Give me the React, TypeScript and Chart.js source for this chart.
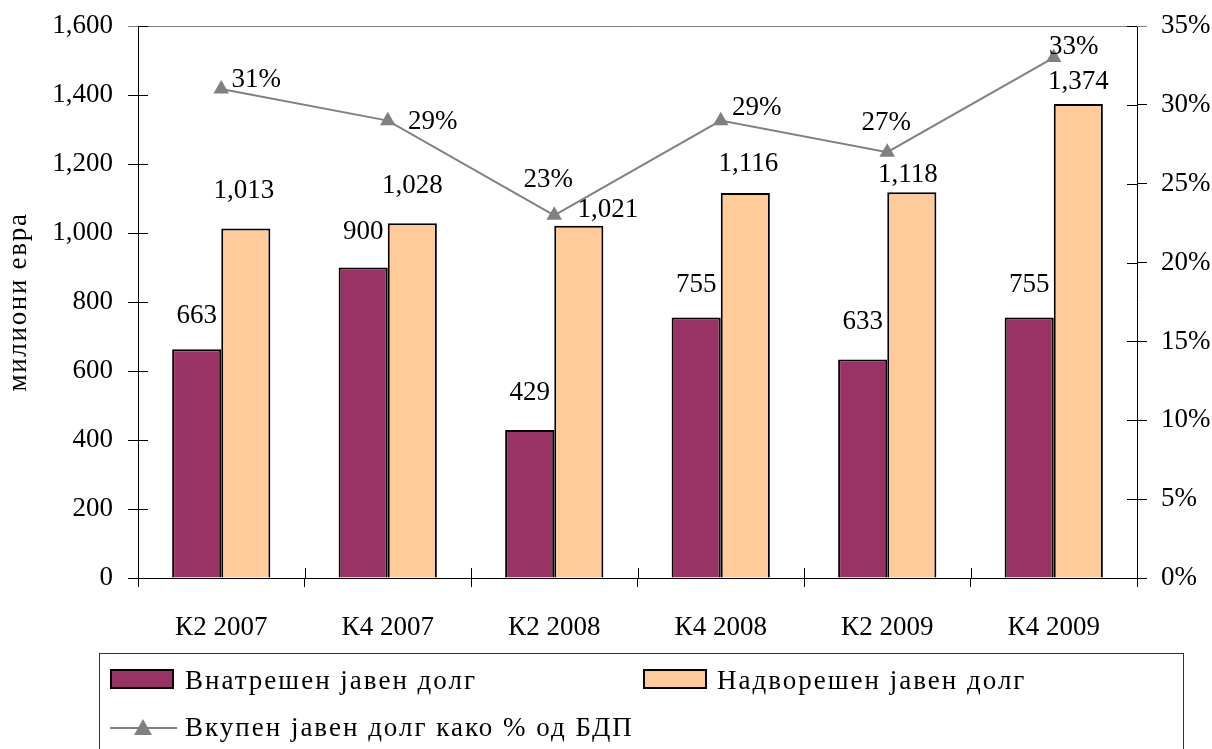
import React, { useEffect, useRef } from "react";
import { Chart, registerables } from "chart.js";

Chart.register(...registerables);

// ---- data ----
const categories = ["К2 2007", "К4 2007", "К2 2008", "К4 2008", "К2 2009", "К4 2009"];
const domesticDebt = [663, 900, 429, 755, 633, 755];
const externalDebt = [1013, 1028, 1021, 1116, 1118, 1374];
const debtToGdp = [31, 29, 23, 29, 27, 33];
const seriesNames = ["Внатрешен јавен долг", "Надворешен јавен долг", "Вкупен јавен долг како % од БДП"];
const leftAxisTitle = "милиони евра";

// ---- label nudges (style, in px: [dx, dy-up]) ----
const domesticLabelNudge = [[0, 33], [0, 36], [0, 37], [0, 33], [0, 38], [0, 33]];
const externalLabelNudge = [[-2, 38], [0, 37], [29, 16], [3, 29], [-4, 17], [0, 22]];
const ratioLabelNudge = [[35, 9], [45, -1], [-6, 35], [36, 13], [-1, 29], [20, 11]];

const FONT_FAMILY = '"Liberation Serif", "Times New Roman", serif';
const FS = 27;
const MAROON = "#993366";
const PEACH = "#FFCC99";
const GRAY = "#808080";

const fmt = (v: number) => v.toLocaleString("en-US");

const labelsPlugin = {
  id: "dataLabelsCustom",
  afterDatasetsDraw(chart: any) {
    const ctx = chart.ctx;
    ctx.save();
    ctx.font = `${FS}px ${FONT_FAMILY}`;
    ctx.fillStyle = "#000";
    ctx.textAlign = "center";
    ctx.textBaseline = "middle";
    const nudges = [domesticLabelNudge, externalLabelNudge, ratioLabelNudge];
    chart.data.datasets.forEach((ds: any, di: number) => {
      const meta = chart.getDatasetMeta(di);
      meta.data.forEach((el: any, i: number) => {
        const v = ds.data[i];
        const txt = di === 2 ? `${v}%` : fmt(v);
        const [dx, dy] = nudges[di][i];
        ctx.fillText(txt, el.x + dx, el.y - dy);
      });
    });
    ctx.restore();
  },
};

const axisDecorPlugin = {
  id: "axisDecor",
  afterDraw(chart: any) {
    const ctx = chart.ctx;
    const a = chart.chartArea;
    ctx.save();
    // top border
    ctx.strokeStyle = GRAY;
    ctx.lineWidth = 1;
    ctx.beginPath();
    ctx.moveTo(a.left - 10, Math.round(a.top) + 0.5);
    ctx.lineTo(a.right + 10, Math.round(a.top) + 0.5);
    ctx.stroke();
    // inner tick segments
    ctx.strokeStyle = "#000";
    const y = chart.scales.y;
    y.ticks.forEach((t: any) => {
      const p = Math.round(y.getPixelForValue(t.value)) + 0.5;
      ctx.beginPath();
      ctx.moveTo(a.left, p);
      ctx.lineTo(a.left + 10, p);
      ctx.stroke();
    });
    const y1 = chart.scales.y1;
    y1.ticks.forEach((t: any) => {
      const p = Math.round(y1.getPixelForValue(t.value)) + 0.5;
      ctx.beginPath();
      ctx.moveTo(a.right - 10, p);
      ctx.lineTo(a.right, p);
      ctx.stroke();
    });
    const n = chart.data.labels.length;
    for (let i = 0; i <= n; i++) {
      const x = Math.round(a.left + ((a.right - a.left) * i) / n) + 0.5;
      ctx.beginPath();
      ctx.moveTo(x, a.bottom);
      ctx.lineTo(x, a.bottom - 10);
      ctx.stroke();
    }
    // y-axis title
    ctx.fillStyle = "#000";
    ctx.font = `${FS}px ${FONT_FAMILY}`;
    (ctx as any).letterSpacing = "1.7px";
    ctx.textAlign = "center";
    ctx.textBaseline = "middle";
    ctx.translate(19, (a.top + a.bottom) / 2);
    ctx.rotate(-Math.PI / 2);
    ctx.fillText(leftAxisTitle, 0, 0);
    ctx.restore();
  },
};

const legendPlugin = {
  id: "legendCustom",
  afterDraw(chart: any) {
    const ctx = chart.ctx;
    ctx.save();
    ctx.strokeStyle = "#333";
    ctx.lineWidth = 1;
    ctx.strokeRect(99.5, 653.5, 1084, 120);
    ctx.font = `${FS}px ${FONT_FAMILY}`;
    (ctx as any).letterSpacing = "2px";
    ctx.fillStyle = "#000";
    ctx.textBaseline = "middle";
    ctx.textAlign = "left";
    const ds = chart.data.datasets;
    // bar swatches
    const sw = [
      { x: 111, y: 670, tx: 185 },
      { x: 644, y: 670, tx: 717 },
    ];
    sw.forEach((s, i) => {
      ctx.fillStyle = ds[i].backgroundColor;
      ctx.fillRect(s.x, s.y, 62, 18);
      ctx.strokeStyle = "#000";
      ctx.lineWidth = 2;
      ctx.strokeRect(s.x, s.y, 62, 18);
      ctx.fillStyle = "#000";
      ctx.fillText(ds[i].label, s.tx, s.y + 12);
    });
    // line item
    ctx.strokeStyle = ds[2].borderColor;
    ctx.lineWidth = 2;
    ctx.beginPath();
    ctx.moveTo(110, 728);
    ctx.lineTo(177, 728);
    ctx.stroke();
    ctx.fillStyle = ds[2].pointBackgroundColor;
    ctx.beginPath();
    ctx.moveTo(143, 719);
    ctx.lineTo(152, 735);
    ctx.lineTo(134, 735);
    ctx.closePath();
    ctx.fill();
    ctx.fillStyle = "#000";
    ctx.fillText(ds[2].label, 185, 729);
    ctx.restore();
  },
};

export default function App() {
  const ref = useRef<HTMLCanvasElement | null>(null);
  useEffect(() => {
    if (!ref.current) return;
    const font = { family: FONT_FAMILY, size: FS };
    const chart = new Chart(ref.current, {
      type: "bar",
      data: {
        labels: categories,
        datasets: [
          {
            type: "bar",
            label: seriesNames[0],
            data: domesticDebt,
            backgroundColor: MAROON,
            borderColor: "#000",
            borderWidth: 2,
            yAxisID: "y",
            order: 2,
            categoryPercentage: 0.59,
            barPercentage: 1,
          } as any,
          {
            type: "bar",
            label: seriesNames[1],
            data: externalDebt,
            backgroundColor: PEACH,
            borderColor: "#000",
            borderWidth: 2,
            yAxisID: "y",
            order: 2,
            categoryPercentage: 0.59,
            barPercentage: 1,
          } as any,
          {
            type: "line",
            label: seriesNames[2],
            data: debtToGdp,
            borderColor: GRAY,
            borderWidth: 2,
            pointStyle: "triangle",
            pointRadius: 9,
            pointBackgroundColor: GRAY,
            pointBorderColor: GRAY,
            pointBorderWidth: 0,
            yAxisID: "y1",
            order: 1,
            tension: 0,
          } as any,
        ],
      },
      options: {
        responsive: false,
        animation: false,
        layout: { padding: { top: 26, left: 0, right: 0, bottom: 0 } },
        plugins: {
          legend: { display: false },
          tooltip: { enabled: false },
        },
        scales: {
          x: {
            offset: true,
            grid: { display: true, drawOnChartArea: false, offset: true, tickLength: 9, color: "#000" },
            border: { color: "#000", width: 1 },
            ticks: { font, color: "#000", padding: 25, maxRotation: 0 },
            afterFit: (s: any) => {
              s.height = 171;
              s.paddingLeft = 0;
              s.paddingRight = 0;
            },
          },
          y: {
            position: "left",
            min: 0,
            max: 1600,
            ticks: { stepSize: 200, font, color: "#000", padding: 15, callback: (v: any) => fmt(Number(v)) },
            grid: { drawOnChartArea: false, tickLength: 10, color: "#000" },
            border: { color: "#000", width: 1 },
            afterFit: (s: any) => {
              s.width = 138;
              s.paddingTop = 0;
              s.paddingBottom = 0;
            },
          },
          y1: {
            position: "right",
            min: 0,
            max: 35,
            ticks: { stepSize: 5, font, color: "#000", padding: 14, callback: (v: any) => `${v}%` },
            grid: { drawOnChartArea: false, tickLength: 10, color: "#000" },
            border: { color: "#000", width: 1 },
            afterFit: (s: any) => {
              s.width = 75;
              s.paddingTop = 0;
              s.paddingBottom = 0;
            },
          },
        },
      } as any,
      plugins: [labelsPlugin, axisDecorPlugin, legendPlugin],
    });
    return () => chart.destroy();
  }, []);
  return (
    <div style={{ position: "fixed", left: 0, top: 0, width: 1212, height: 749, background: "#fff" }}>
      <canvas ref={ref} width={1212} height={749} style={{ display: "block" }} />
    </div>
  );
}
